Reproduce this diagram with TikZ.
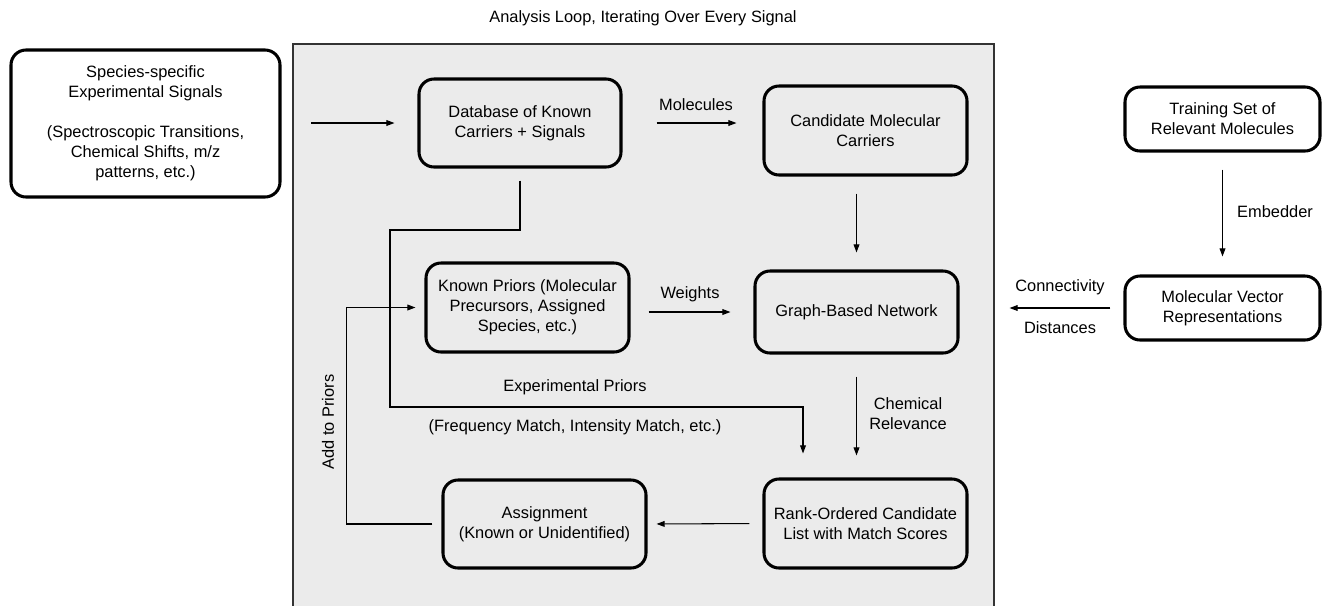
\documentclass[tikz,border=0pt]{standalone}
\usepackage{fontspec}
\setmainfont{Liberation Sans}
\usepackage{tikz}
\usetikzlibrary{positioning, arrows.meta}

\tikzset{
  stepbox/.style={draw, line width=2.6pt, rounded corners=0.45cm, align=center, inner sep=0pt},
  arr/.style={-{Triangle[length=7pt,width=5pt]}, line width=0.9pt},
  lbl/.style={align=center, inner sep=0pt}
}

\begin{document}
\begin{tikzpicture}[x=0.03cm, y=-0.03cm, font=\fontsize{14}{17}\selectfont]

\useasboundingbox (0,0) rectangle (1323,605);

\fill[black!8] (293,44) rectangle (994,620);
\draw[line width=0.9pt, black!80] (293,620) -- (293,44) -- (994,44) -- (994,620);
\node[lbl] (title) at (643,18) {Analysis Loop, Iterating Over Every Signal};

\node[stepbox, minimum width=269*0.03cm, minimum height=147*0.03cm] (species) at (145.5,123.5)
  {Species-specific\\Experimental Signals\\[17pt](Spectroscopic Transitions,\\Chemical Shifts, m/z\\patterns, etc.)};
\node[stepbox, minimum width=202*0.03cm, minimum height=88*0.03cm] (db) at (520,123) {Database of Known\\Carriers + Signals};
\node[stepbox, minimum width=203*0.03cm, minimum height=89*0.03cm] (cand) at (865.5,130.5) {Candidate Molecular\\Carriers};
\node[stepbox, minimum width=203*0.03cm, minimum height=89*0.03cm] (priors) at (527.5,307.5) {Known Priors (Molecular\\Precursors, Assigned\\Species, etc.)};
\node[stepbox, minimum width=203*0.03cm, minimum height=82*0.03cm] (graph) at (856.5,312) {Graph-Based Network};
\node[stepbox, minimum width=203*0.03cm, minimum height=89*0.03cm] (rank) at (865.5,523.5) {Rank-Ordered Candidate\\List with Match Scores};
\node[stepbox, minimum width=203*0.03cm, minimum height=88*0.03cm] (assign) at (544.5,524) {Assignment\\(Known or Unidentified)};
\node[stepbox, minimum width=195*0.03cm, minimum height=64*0.03cm] (train) at (1222.5,119) {Training Set of\\Relevant Molecules};
\node[stepbox, minimum width=195*0.03cm, minimum height=64*0.03cm] (molvec) at (1222.5,308) {Molecular Vector\\Representations};

\coordinate (in) at (311,123);
\draw[arr, shorten >=0.69cm] (in) -- (in -| db.west);
\draw[arr, shorten <=1.02cm, shorten >=0.78cm] (db.east) -- (db.east -| cand.west);
\node[lbl] (molecules) at (696,105) {Molecules};
\draw[arr, shorten <=0.51cm, shorten >=0.51cm] (graph.north |- cand.south) -- (graph.north);
\draw[arr, shorten <=0.54cm, shorten >=0.69cm] (priors.east |- graph.west) -- (graph.west);
\node[lbl] (weights) at (690,294) {Weights};
\draw[arr, shorten <=0.51cm, shorten >=0.54cm] (train.south) -- (molvec.north);
\node[lbl] (embedder) at (1275,212) {Embedder};
\draw[arr, shorten <=0.39cm, shorten >=1.5cm] (molvec.west) -- (molvec.west -| graph.east);
\node[lbl] (conn) at (1060,287) {Connectivity};
\node[lbl] (dist) at (1060,328) {Distances};
\draw[arr, shorten <=0.66cm, shorten >=0.66cm] (graph.south) -- (graph.south |- rank.north);
\node[lbl] (chem) at (908,414) {Chemical\\Relevance};
\draw[arr, shorten <=0.39cm, shorten >=0.27cm] (rank.west) -- (assign.east);

% loop back into the priors
\draw[arr, shorten <=0.27cm, shorten >=0.27cm] (assign.west) -- ++(-95,0) |- (priors.west);
\node[lbl, rotate=90] (addpriors) at (328,422) {Add to Priors};

% experimental priors from the database
\coordinate (ep1) at (390,230);
\coordinate (ep2) at (803,407);
\draw[arr, shorten <=0.36cm, shorten >=0.72cm] (db.south) |- (ep1) |- (ep2) -- (ep2 |- rank.north);
\node[lbl] (expriors) at (575,387) {Experimental Priors};
\node[lbl] (match) at (575,427) {(Frequency Match, Intensity Match, etc.)};

\end{tikzpicture}
\end{document}
